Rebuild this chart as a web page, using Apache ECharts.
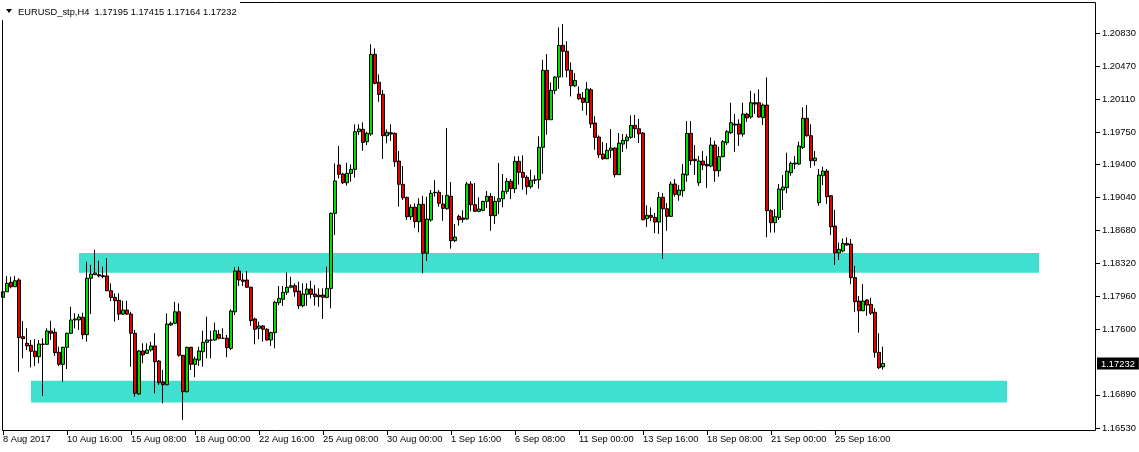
<!DOCTYPE html>
<html><head><meta charset="utf-8">
<script src="https://cdn.jsdelivr.net/npm/echarts@6/dist/echarts.min.js"></script>
<style>html,body{margin:0;padding:0;background:#fff;overflow:hidden}#c{width:1139px;height:452px}</style>
</head><body><div id="c"></div>
<script>
const symbolTitle = 'EURUSD_stp,H4';
const xTickLabels = ['8 Aug 2017','10 Aug 16:00','15 Aug 08:00','18 Aug 00:00','22 Aug 16:00','25 Aug 08:00','30 Aug 00:00','1 Sep 16:00','6 Sep 08:00','11 Sep 00:00','13 Sep 16:00','18 Sep 08:00','21 Sep 00:00','25 Sep 16:00'];
const yTickLabels = ['1.20830','1.20470','1.20110','1.19750','1.19400','1.19040','1.18680','1.18320','1.17960','1.17600','1.16890','1.16530'];

const opens = [1.17952,1.18013,1.18116,1.18068,1.18141,1.17524,1.17452,1.17430,1.17365,1.17306,1.17439,1.17441,1.17586,1.17572,1.17354,1.17223,1.17408,1.17561,1.17706,1.17706,
1.17735,1.17546,1.18160,1.18199,1.18199,1.18188,1.18185,1.18024,1.17952,1.17920,1.17770,1.17814,1.17770,1.17561,1.16900,1.17368,1.17343,1.17379,1.17423,1.17259,
1.17030,1.17001,1.17651,1.17670,1.17795,1.17321,1.16925,1.17408,1.17223,1.17270,1.17360,1.17463,1.17485,1.17488,1.17550,1.17507,1.17507,1.17397,1.17795,1.18239,
1.18141,1.18141,1.18062,1.17717,1.17615,1.17641,1.17605,1.17488,1.17568,1.17894,1.17931,1.18007,1.18062,1.18079,1.18021,1.17861,1.17985,1.18043,1.17988,1.17977,
1.17977,1.17952,1.18050,1.18867,1.19393,1.19295,1.19200,1.19302,1.19346,1.19756,1.19782,1.19647,1.19730,1.20598,1.20293,1.20162,1.19712,1.19745,1.19738,1.19436,
1.19183,1.19041,1.18830,1.18933,1.18776,1.18965,1.18432,1.18794,1.19096,1.19096,1.18968,1.18917,1.19052,1.18569,1.18834,1.18816,1.18805,1.19186,1.18961,1.18889,
1.18900,1.18997,1.19052,1.18841,1.18997,1.19026,1.19107,1.19216,1.19135,1.19433,1.19313,1.19259,1.19157,1.19227,1.19233,1.19586,1.20424,1.19886,1.20206,1.20351,
1.20696,1.20631,1.20424,1.20256,1.20165,1.20122,1.20075,1.20212,1.19850,1.19698,1.19512,1.19461,1.19553,1.19578,1.19288,1.19621,1.19658,1.19694,1.19825,1.19788,
1.19741,1.18808,1.18845,1.18823,1.18772,1.19041,1.18917,1.18834,1.19186,1.19066,1.19113,1.19284,1.19738,1.19455,1.19200,1.19436,1.19400,1.19382,1.19611,1.19331,
1.19484,1.19636,1.19745,1.19839,1.19839,1.19730,1.19948,1.19916,1.20071,1.20071,1.19909,1.20046,1.18896,1.18765,1.18823,1.19121,1.19146,1.19309,1.19404,1.19404,
1.19585,1.19901,1.19712,1.19440,1.18983,1.19276,1.19327,1.19059,1.18728,1.18435,1.18457,1.18540,1.18532,1.18167,1.17912,1.17806,1.17923,1.17876,1.17790,1.17354,
1.17195];

const highs = [1.18231,1.18185,1.18177,1.18185,1.18160,1.17695,1.17615,1.17488,1.17496,1.17488,1.17507,1.17615,1.17698,1.17615,1.17415,1.17415,1.17568,1.17850,1.17779,1.17771,
1.17785,1.18340,1.18305,1.18468,1.18351,1.18286,1.18377,1.18105,1.17996,1.17996,1.17915,1.17915,1.17795,1.17597,1.17379,1.17452,1.17452,1.17469,1.17561,1.17270,
1.17161,1.17778,1.17688,1.17904,1.17887,1.17325,1.17415,1.17415,1.17306,1.17415,1.17589,1.17742,1.17589,1.17677,1.17597,1.17615,1.17543,1.17821,1.18279,1.18286,
1.18214,1.18239,1.18068,1.17731,1.17688,1.17651,1.17615,1.17579,1.17915,1.18076,1.18076,1.18225,1.18177,1.18105,1.18122,1.18105,1.18105,1.18133,1.18087,1.18050,
1.18050,1.18286,1.18876,1.19411,1.19600,1.19309,1.19418,1.19400,1.19836,1.19836,1.19858,1.19756,1.20707,1.20663,1.20380,1.20209,1.19782,1.19836,1.19749,1.19545,
1.19382,1.19048,1.18965,1.18976,1.19030,1.19056,1.19048,1.19121,1.19230,1.19121,1.19066,1.19796,1.19208,1.18751,1.18852,1.18900,1.19208,1.19216,1.19197,1.19041,
1.19004,1.19110,1.19088,1.19052,1.19414,1.19295,1.19252,1.19241,1.19488,1.19488,1.19498,1.19281,1.19342,1.19281,1.19705,1.20539,1.20601,1.20293,1.20358,1.20892,
1.20928,1.20740,1.20511,1.20394,1.20249,1.20187,1.20296,1.20231,1.19923,1.19716,1.19643,1.19632,1.19785,1.19585,1.19741,1.19730,1.19730,1.19933,1.19940,1.19894,
1.19752,1.18954,1.18932,1.18871,1.19099,1.19088,1.18979,1.19216,1.19241,1.19175,1.19404,1.19872,1.19872,1.19611,1.19491,1.19545,1.19491,1.19694,1.19658,1.19593,
1.19665,1.19774,1.20071,1.19948,1.19890,1.20071,1.19962,1.20201,1.20173,1.20216,1.20064,1.20347,1.18911,1.18911,1.19186,1.19284,1.19527,1.19429,1.19491,1.19647,
1.20021,1.20046,1.19836,1.19545,1.19350,1.19374,1.19350,1.19066,1.18903,1.18548,1.18594,1.18605,1.18587,1.18294,1.17966,1.18098,1.17934,1.17948,1.17833,1.17561,
1.17415];

const lows = [1.17890,1.18013,1.18050,1.18068,1.17142,1.17289,1.17379,1.17190,1.17205,1.17234,1.16879,1.17434,1.17488,1.17314,1.17205,1.17033,1.17172,1.17553,1.17615,1.17597,
1.17496,1.17470,1.17770,1.18196,1.18170,1.18160,1.18021,1.17912,1.17688,1.17706,1.17760,1.17760,1.17197,1.16871,1.16890,1.17234,1.17336,1.17360,1.16908,1.16998,
1.16799,1.16994,1.17641,1.17662,1.17306,1.16617,1.16915,1.17161,1.17082,1.17205,1.17197,1.17289,1.17289,1.17480,1.17496,1.17502,1.17300,1.17379,1.17760,1.18076,
1.18076,1.18057,1.17641,1.17441,1.17496,1.17470,1.17480,1.17423,1.17397,1.17868,1.17858,1.17978,1.18050,1.17959,1.17825,1.17843,1.17861,1.17941,1.17861,1.17850,
1.17717,1.17941,1.17832,1.18631,1.19248,1.19186,1.19168,1.19211,1.19255,1.19720,1.19548,1.19611,1.19712,1.20271,1.20081,1.19458,1.19629,1.19654,1.19374,1.18939,
1.19012,1.18794,1.18794,1.18710,1.18660,1.18214,1.18348,1.18776,1.19048,1.18939,1.18786,1.18906,1.18482,1.18554,1.18732,1.18765,1.18797,1.18889,1.18881,1.18881,
1.18889,1.18925,1.18677,1.18751,1.18859,1.18932,1.19077,1.19023,1.19088,1.19179,1.19124,1.19070,1.19135,1.19186,1.19135,1.19298,1.19723,1.19886,1.20165,1.20223,
1.20347,1.20347,1.20140,1.20242,1.20103,1.19984,1.19934,1.19796,1.19559,1.19469,1.19450,1.19458,1.19469,1.19259,1.19288,1.19534,1.19570,1.19679,1.19687,1.19632,
1.18791,1.18718,1.18780,1.18652,1.18642,1.18373,1.18677,1.18827,1.19048,1.19004,1.19048,1.19211,1.19393,1.19284,1.19164,1.19338,1.19143,1.19368,1.19211,1.19266,
1.19477,1.19611,1.19730,1.19537,1.19600,1.19701,1.19861,1.19898,1.19948,1.19909,1.19828,1.18606,1.18657,1.18657,1.18794,1.18903,1.19085,1.19276,1.19349,1.19393,
1.19567,1.19701,1.19363,1.19385,1.18950,1.19175,1.18968,1.18631,1.18305,1.18359,1.18443,1.18514,1.18095,1.17795,1.17568,1.17803,1.17752,1.17760,1.17295,1.17172,
1.17164];

const closes = [1.18013,1.18105,1.18068,1.18133,1.17513,1.17502,1.17423,1.17365,1.17306,1.17444,1.17444,1.17586,1.17561,1.17350,1.17223,1.17408,1.17561,1.17706,1.17717,1.17739,
1.17546,1.18160,1.18206,1.18217,1.18185,1.18177,1.18024,1.17952,1.17915,1.17770,1.17814,1.17770,1.17561,1.16908,1.17368,1.17325,1.17379,1.17423,1.17251,1.17023,
1.17001,1.17662,1.17670,1.17795,1.17321,1.16925,1.17408,1.17223,1.17281,1.17368,1.17463,1.17488,1.17488,1.17589,1.17507,1.17507,1.17404,1.17803,1.18239,1.18141,
1.18127,1.18062,1.17698,1.17605,1.17641,1.17605,1.17488,1.17568,1.17898,1.17941,1.18007,1.18062,1.18079,1.18013,1.17861,1.17988,1.18043,1.17985,1.17959,1.17959,
1.17952,1.18050,1.18867,1.19219,1.19292,1.19200,1.19302,1.19346,1.19756,1.19785,1.19640,1.19738,1.20598,1.20282,1.20162,1.19712,1.19749,1.19730,1.19428,1.19183,
1.19037,1.18830,1.18933,1.18776,1.18965,1.18432,1.18805,1.19085,1.19091,1.18976,1.18921,1.19063,1.18569,1.18609,1.18797,1.18801,1.19186,1.18961,1.18889,1.18914,
1.18997,1.19052,1.18841,1.18997,1.19026,1.19107,1.19216,1.19135,1.19433,1.19313,1.19259,1.19157,1.19227,1.19233,1.19586,1.20424,1.19886,1.20206,1.20351,1.20696,
1.20631,1.20424,1.20256,1.20314,1.20114,1.20075,1.20220,1.19839,1.19694,1.19505,1.19461,1.19553,1.19578,1.19288,1.19632,1.19662,1.19698,1.19825,1.19788,1.19734,
1.18797,1.18845,1.18823,1.18772,1.19041,1.18917,1.18834,1.19186,1.19074,1.19121,1.19295,1.19738,1.19440,1.19440,1.19436,1.19393,1.19382,1.19611,1.19331,1.19484,
1.19647,1.19756,1.19854,1.19828,1.19730,1.19948,1.19905,1.20071,1.20057,1.19916,1.20046,1.18896,1.18765,1.18830,1.19132,1.19154,1.19327,1.19411,1.19415,1.19600,
1.19901,1.19712,1.19440,1.19469,1.19284,1.19327,1.19048,1.18721,1.18435,1.18475,1.18540,1.18522,1.18167,1.17905,1.17806,1.17912,1.17868,1.17779,1.17354,1.17186,
1.17232];

// support/resistance zones (bar index from/to, price high/low)
const zoneFrom = [19, 7];
const zoneTo = [259, 251];
const zoneHigh = [1.18435, 1.17044];
const zoneLow = [1.18221, 1.16806];

const slotCount = 273;       // bar slots visible across the chart window
const tickEvery = 16;        // bars between time labels
const yMin = 1.16497, yMax = 1.21157;

const FONT = "'Liberation Sans',Arial,sans-serif";

const categories = [];
for (let i = 0; i < slotCount; i++) categories.push(String(i));
const isTick = (i) => i % tickEvery === 0 && i / tickEvery < xTickLabels.length;
const ohlc = opens.map((o, i) => [o, closes[i], lows[i], highs[i]]);
const last = opens.length - 1;
const fmt = v => v.toFixed(5);

const chart = echarts.init(document.getElementById('c'), null, {renderer: 'canvas'});
chart.setOption({
  animation: false,
  backgroundColor: '#ffffff',
  grid: {left: 1, top: 3, width: 1092, height: 428, show: false, containLabel: false, outerBoundsMode: 'none'},
  xAxis: {
    type: 'category', data: categories, boundaryGap: true,
    axisLine: {show: false},
    axisTick: {show: true, alignWithLabel: true, length: 4, lineStyle: {color: '#000'}, interval: (i) => isTick(i)},
    axisLabel: {show: true, align: 'left', margin: 4, color: '#000', fontSize: 9.3, fontFamily: FONT,
      interval: 0, hideOverlap: false,
      formatter: (v, i) => isTick(i) ? xTickLabels[i / tickEvery] : ''},
    splitLine: {show: false}
  },
  yAxis: [{
    type: 'value', position: 'right', offset: 3, min: yMin, max: yMax, scale: true,
    axisLine: {show: false},
    axisTick: {show: true, length: 4, lineStyle: {color: '#000'}, customValues: yTickLabels.map(Number)},
    axisLabel: {show: true, margin: 6, color: '#000', fontSize: 9.4, fontFamily: FONT,
      customValues: yTickLabels.map(Number), formatter: (v) => fmt(v)},
    splitLine: {show: false}
  }, {
    type: 'value', position: 'right', offset: 3, min: yMin, max: yMax, scale: true,
    axisLine: {show: false}, axisTick: {show: false}, splitLine: {show: false},
    axisLabel: {show: true, margin: 1, fontSize: 9.4, fontFamily: FONT,
      customValues: [closes[last]],
      formatter: (v) => '{cur|' + fmt(v) + '}',
      rich: {cur: {backgroundColor: '#000', color: '#fff', padding: [2, 4, 1, 4], fontSize: 9.4, fontFamily: FONT}}}
  }],
  series: [{
    type: 'candlestick',
    yAxisIndex: 0,
    data: ohlc,
    barWidth: 3,
    itemStyle: {color: '#00e000', color0: '#e80000', borderColor: '#000', borderColor0: '#000', borderColorDoji: '#000', borderWidth: 1},
    markArea: {
      silent: true,
      itemStyle: {color: '#40e0d0'},
      data: zoneFrom.map((f, k) => [{coord: [f, zoneHigh[k]]}, {coord: [zoneTo[k], zoneLow[k]]}])
    }
  }],
  graphic: [
    {type: 'rect', z: 100, silent: true, shape: {x: 2.5, y: 2.5, width: 1093, height: 428}, style: {fill: null, stroke: '#000', lineWidth: 1}},
    {type: 'rect', z: 101, silent: true, shape: {x: 0, y: 0, width: 240, height: 20}, style: {fill: '#fff'}},
    {type: 'polygon', z: 102, silent: true, shape: {points: [[6, 9], [12, 9], [9, 13]]}, style: {fill: '#000'}},
    {type: 'text', z: 102, silent: true, x: 18, y: 12,
      style: {text: symbolTitle + '  ' + [opens[last], highs[last], lows[last], closes[last]].map(fmt).join(' '),
        fill: '#000', font: '9.3px ' + FONT, verticalAlign: 'middle'}}
  ]
});
</script>
</body></html>
